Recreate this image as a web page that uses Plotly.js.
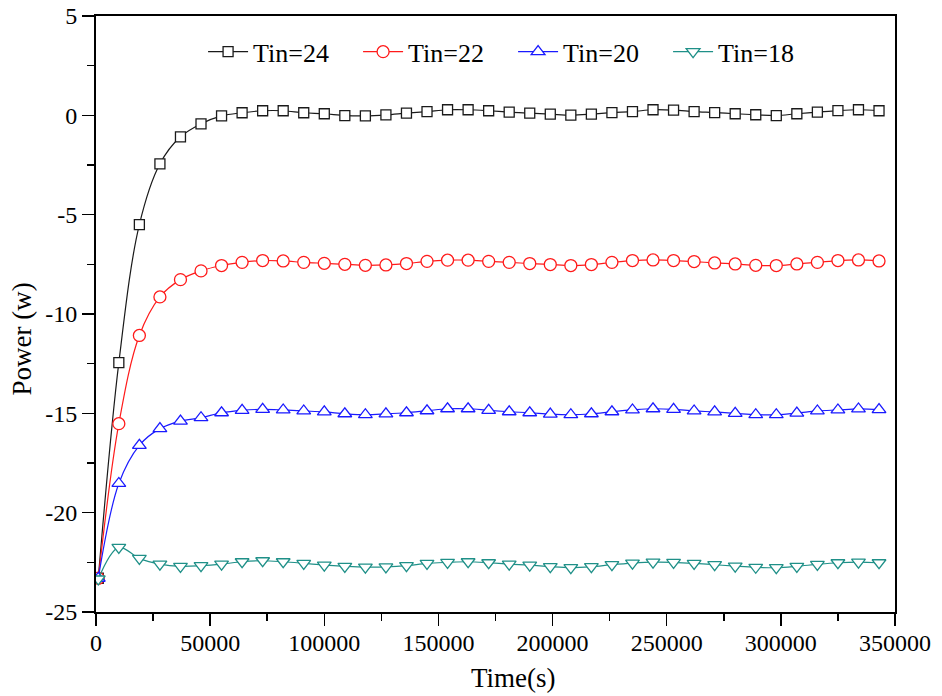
<!DOCTYPE html>
<html>
<head>
<meta charset="utf-8">
<script src="https://cdn.plot.ly/plotly-3.0.1.min.js"></script>
<style>
  html, body { margin: 0; padding: 0; background: #fff; }
  #chart { width: 942px; height: 696px; }
  #chart svg text { font-family: "Liberation Serif", "Times New Roman", serif !important; }
</style>
</head>
<body>
<div id="chart"></div>
<script>
// Sampling times (s)
const time = [1000, 10000, 19000, 28000, 37000, 46000, 55000, 64000, 73000, 82000,
  91000, 100000, 109000, 118000, 127000, 136000, 145000, 154000, 163000, 172000,
  181000, 190000, 199000, 208000, 217000, 226000, 235000, 244000, 253000, 262000,
  271000, 280000, 289000, 298000, 307000, 316000, 325000, 334000, 343000];

// Power (W) for each inlet temperature
const tin24 = [-23.3, -12.45, -5.5, -2.44, -1.08, -0.43, -0.03, 0.13, 0.23, 0.23,
  0.13, 0.08, -0.01, -0.03, 0.02, 0.11, 0.19, 0.28, 0.28, 0.23,
  0.16, 0.11, 0.06, 0.01, 0.06, 0.14, 0.19, 0.28, 0.26, 0.19,
  0.14, 0.08, 0.03, -0.01, 0.08, 0.16, 0.24, 0.28, 0.23];

const tin22 = [-23.3, -15.52, -11.08, -9.14, -8.27, -7.83, -7.56, -7.40, -7.31, -7.33,
  -7.40, -7.45, -7.50, -7.55, -7.53, -7.46, -7.35, -7.29, -7.29, -7.35,
  -7.40, -7.46, -7.51, -7.56, -7.51, -7.40, -7.31, -7.28, -7.31, -7.36,
  -7.43, -7.48, -7.55, -7.56, -7.48, -7.40, -7.31, -7.28, -7.33];

const tin20 = [-23.3, -18.53, -16.61, -15.77, -15.39, -15.22, -14.97, -14.85, -14.80, -14.83,
  -14.88, -14.93, -15.02, -15.07, -15.03, -14.97, -14.87, -14.77, -14.77, -14.85,
  -14.92, -14.97, -15.04, -15.07, -15.02, -14.92, -14.83, -14.77, -14.80, -14.88,
  -14.93, -15.00, -15.07, -15.07, -14.99, -14.88, -14.83, -14.78, -14.81];

const tin18 = [-23.34, -21.75, -22.30, -22.59, -22.70, -22.67, -22.59, -22.47, -22.42, -22.47,
  -22.55, -22.64, -22.70, -22.74, -22.73, -22.67, -22.55, -22.50, -22.47, -22.52,
  -22.59, -22.64, -22.72, -22.77, -22.72, -22.62, -22.54, -22.49, -22.50, -22.55,
  -22.62, -22.69, -22.75, -22.77, -22.70, -22.60, -22.52, -22.49, -22.52];

const seriesNames = ['Tin=24', 'Tin=22', 'Tin=20', 'Tin=18'];

// Axis ticks
const xTickVals = [0, 50000, 100000, 150000, 200000, 250000, 300000, 350000];
const xTickText = ['0', '50000', '100000', '150000', '200000', '250000', '300000', '350000'];
const yTickVals = [-25, -20, -15, -10, -5, 0, 5];
const yTickText = ['-25', '-20', '-15', '-10', '-5', '0', '5'];

const FONT = 'Liberation Serif, Times New Roman, serif';

const styles = [
  { color: '#1a1a1a', symbol: 'square', size: 10 },
  { color: '#ff1a1a', symbol: 'circle', size: 12 },
  { color: '#1a1aff', symbol: 'triangle-up', size: 12 },
  { color: '#1f9088', symbol: 'triangle-down', size: 12 }
];

const values = [tin24, tin22, tin20, tin18];

const traces = values.map((ys, i) => ({
  type: 'scatter',
  mode: 'lines+markers',
  name: seriesNames[i],
  x: time,
  y: ys,
  line: { color: styles[i].color, width: 1.2, shape: 'spline', smoothing: 1 },
  marker: {
    symbol: styles[i].symbol,
    size: styles[i].size,
    color: '#ffffff',
    line: { color: styles[i].color, width: 1.3 }
  }
}));

const layout = {
  width: 942,
  height: 696,
  margin: { l: 96, r: 47, t: 16, b: 84 },
  paper_bgcolor: '#ffffff',
  plot_bgcolor: '#ffffff',
  font: { family: FONT, color: '#000', size: 24 },
  showlegend: true,
  legend: {
    orientation: 'h',
    x: 0.522, xanchor: 'center',
    y: 0.94, yanchor: 'middle',
    font: { family: FONT, size: 26, color: '#000' },
    bgcolor: 'rgba(0,0,0,0)',
    entrywidth: 100,
    itemwidth: 40,
    traceorder: 'normal'
  },
  xaxis: {
    range: [0, 350000],
    tickmode: 'array',
    tickvals: xTickVals,
    ticktext: xTickText,
    ticks: 'outside',
    ticklen: 12,
    tickwidth: 1.5,
    tickcolor: '#000',
    minor: { tickmode: 'linear', tick0: 0, dtick: 25000, ticks: 'outside', ticklen: 7, tickwidth: 1.5, tickcolor: '#000' },
    showline: true,
    linewidth: 2,
    linecolor: '#000',
    mirror: true,
    showgrid: false,
    zeroline: false,
    tickfont: { family: FONT, size: 24, color: '#000' },
    ticklabelstandoff: -4
  },
  yaxis: {
    range: [-25, 5],
    tickmode: 'array',
    tickvals: yTickVals,
    ticktext: yTickText,
    ticks: 'outside',
    ticklen: 12,
    tickwidth: 1.5,
    tickcolor: '#000',
    minor: { tickmode: 'linear', tick0: 0, dtick: 2.5, ticks: 'outside', ticklen: 7, tickwidth: 1.5, tickcolor: '#000' },
    showline: true,
    linewidth: 2,
    linecolor: '#000',
    mirror: true,
    showgrid: false,
    zeroline: false,
    tickfont: { family: FONT, size: 24, color: '#000' },
    ticklabelstandoff: 0
  },
  annotations: [
    {
      text: 'Time(s)', xref: 'paper', yref: 'paper',
      x: 0.5225, y: -0.11, xanchor: 'center', yanchor: 'middle',
      showarrow: false, font: { family: FONT, size: 27, color: '#000' }
    },
    {
      text: 'Power (w)', xref: 'paper', yref: 'paper',
      x: -0.092, y: 0.458, xanchor: 'center', yanchor: 'middle',
      textangle: -90,
      showarrow: false, font: { family: FONT, size: 27, color: '#000' }
    }
  ]
};

Plotly.newPlot('chart', traces, layout, { displayModeBar: false, staticPlot: true });
</script>
</body>
</html>
